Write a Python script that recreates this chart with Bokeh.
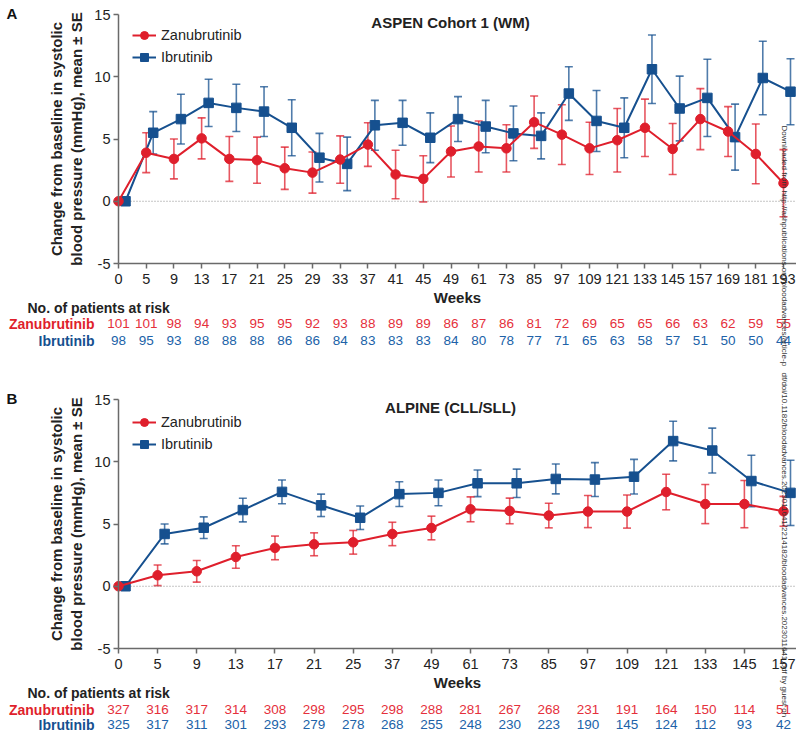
import math
from bokeh.plotting import figure
from bokeh.models import (Range1d, FixedTicker, Whisker, TeeHead, ColumnDataSource,
                          Label, Legend, LegendItem, LinearAxis)
from bokeh.layouts import column
from bokeh.embed import file_html
from bokeh.resources import INLINE
from bokeh.core.properties import value

# ---------------- data ----------------
aspen_weeks = [0, 5, 9, 13, 17, 21, 25, 29, 33, 37, 41, 45, 49, 61, 73, 85, 97, 109, 121, 133, 145, 157, 169, 181, 193]
aspen_zanu_mean = [0, 3.9, 3.4, 5.05, 3.4, 3.3, 2.65, 2.3, 3.35, 4.55, 2.15, 1.8, 4.0, 4.4, 4.25, 6.35, 5.35, 4.25, 4.9, 5.9, 4.2, 6.6, 5.6, 3.8, 1.45]
aspen_zanu_se = [0, 1.6, 1.6, 1.65, 1.8, 1.85, 1.7, 1.65, 1.9, 1.75, 1.95, 1.85, 2.05, 2.05, 1.9, 2.1, 2.4, 2.1, 2.55, 2.3, 2.05, 2.45, 2.0, 2.4, 2.7]
aspen_ibru_mean = [0, 5.5, 6.6, 7.9, 7.5, 7.2, 5.9, 3.5, 3.0, 6.1, 6.3, 5.1, 6.6, 6.0, 5.45, 5.25, 8.65, 6.45, 5.9, 10.6, 7.45, 8.3, 5.15, 9.9, 8.8]
aspen_ibru_se = [0, 1.7, 2.0, 1.9, 1.9, 2.0, 2.25, 1.95, 2.15, 2.0, 1.8, 2.0, 1.8, 2.1, 2.2, 1.85, 2.15, 2.45, 2.4, 2.75, 2.6, 3.1, 2.65, 2.95, 2.65]
aspen_zanu_risk = [101, 101, 98, 94, 93, 95, 95, 92, 93, 88, 89, 89, 86, 87, 86, 81, 72, 69, 65, 65, 66, 63, 62, 59, 55]
aspen_ibru_risk = [98, 95, 93, 88, 88, 88, 86, 86, 84, 83, 83, 83, 84, 80, 78, 77, 71, 65, 63, 58, 57, 51, 50, 50, 44]

alpine_weeks = [0, 5, 9, 13, 17, 21, 25, 37, 49, 61, 73, 85, 97, 109, 121, 133, 145, 157]
alpine_zanu_mean = [0, 0.88, 1.2, 2.35, 3.08, 3.37, 3.53, 4.2, 4.68, 6.18, 6.05, 5.68, 6.0, 6.0, 7.57, 6.6, 6.6, 6.02]
alpine_zanu_se = [0, 0.83, 0.87, 0.9, 0.95, 0.92, 0.95, 0.94, 0.95, 1.0, 1.03, 0.99, 1.29, 1.33, 1.43, 1.57, 1.9, 1.2]
alpine_ibru_mean = [0, 4.2, 4.7, 6.12, 7.58, 6.5, 5.5, 7.4, 7.5, 8.27, 8.27, 8.62, 8.57, 8.8, 11.66, 10.9, 8.45, 7.5]
alpine_ibru_se = [0, 0.8, 0.87, 0.95, 0.95, 0.9, 0.94, 0.99, 1.03, 1.07, 1.14, 1.2, 1.36, 1.39, 1.59, 1.8, 2.07, 2.62]
alpine_zanu_risk = [327, 316, 317, 314, 308, 298, 295, 298, 288, 281, 267, 268, 231, 191, 164, 150, 114, 51]
alpine_ibru_risk = [325, 317, 311, 301, 293, 279, 278, 268, 255, 248, 230, 223, 190, 145, 124, 112, 93, 42]

series_names = ["Zanubrutinib", "Ibrutinib"]
y_label = "Change from baseline in systolic\nblood pressure (mmHg), mean \u00b1 SE"
x_label = "Weeks"
risk_header = "No. of patients at risk"
y_ticks = [-5, 0, 5, 10, 15]
y_tick_labels = ["-5", "0", "5", "10", "15"]
watermark = ("Downloaded from http://ashpublications.org/bloodadvances/article-p",
             "df/doi/10.1182/bloodadvances.2023011641/2214182/bloodadvances.2023011641.pdf by guest on")

# ---------------- style / layout ----------------
FONT = "Liberation Sans"
RED = "#df1f2c"
BLUE = "#16508f"
RED_TXT = "#e5303c"
BLUE_TXT = "#2062a8"
AX = "#6a6a6a"
TXT = "#222222"
W = 796


def panel(letter, title, weeks, zm, zs, im, isd, zr, ir, H, y_top_px, lay):
    n = len(weeks)
    idx = list(range(n))
    x0_px, xl_px = 118, 783               # pixel of first / last week
    xppu = (xl_px - x0_px) / (n - 1)
    yppu = 249 / (y_ticks[-1] - y_ticks[0])
    ymin, ymax = y_ticks[0], y_ticks[-1]

    def X(px):
        return (px - x0_px) / xppu

    def Y(py):
        return ymax - (py - y_top_px) / yppu

    p = figure(width=W, height=H, x_range=Range1d(X(0), X(W)), y_range=Range1d(Y(H), Y(0)),
               output_backend="svg", toolbar_location=None, min_border=0,
               x_axis_location=None, y_axis_location=None)
    p.outline_line_color = None
    p.grid.visible = False
    p.background_fill_color = None
    p.border_fill_color = None

    yax = LinearAxis(fixed_location=0, bounds=(ymin, ymax), ticker=FixedTicker(ticks=y_ticks),
                     major_label_overrides={t: s for t, s in zip(y_ticks, y_tick_labels)})
    xax = LinearAxis(fixed_location=ymin, bounds=(0, X(W)), ticker=FixedTicker(ticks=idx),
                     major_label_overrides={i: str(w) for i, w in enumerate(weeks)})
    for ax in (xax, yax):
        ax.axis_line_color = AX
        ax.axis_line_width = 1.5
        ax.major_tick_line_color = AX
        ax.major_tick_line_width = 1.5
        ax.major_tick_out = 5
        ax.major_tick_in = 0
        ax.minor_tick_line_color = None
        ax.major_label_text_font = FONT
        ax.major_label_text_font_size = "14.5px"
        ax.major_label_text_color = TXT
        ax.axis_label_text_font = FONT
        ax.axis_label_text_font_style = "bold"
        ax.axis_label_text_color = TXT
        ax.axis_label_text_font_size = "15px"
    xax.axis_label = x_label
    xax.major_label_standoff = 5
    xax.axis_label_standoff = 2
    yax.axis_label = y_label
    yax.major_label_standoff = 3
    yax.axis_label_standoff = 6
    p.add_layout(yax, "left")
    p.add_layout(xax, "below")

    # dotted zero reference line from the y axis to the right edge
    p.segment(x0=[0], y0=[0], x1=[X(W)], y1=[0], line_color="#8a8a8a",
              line_dash="1 2", line_width=1)

    ib_x = [i + 7 / xppu for i in idx]

    for xs, m, s, col in ((ib_x, im, isd, BLUE), (idx, zm, zs, RED)):
        keep = [k for k in range(n) if s[k] > 0]
        src = ColumnDataSource(dict(
            base=[xs[k] for k in keep],
            upper=[m[k] + s[k] for k in keep],
            lower=[m[k] - s[k] for k in keep]))
        wk = Whisker(base="base", upper="upper", lower="lower", source=src,
                     line_color=col, line_width=1.6, line_alpha=0.75, level="underlay",
                     upper_head=TeeHead(size=8, line_color=col, line_width=1.6, line_alpha=0.75),
                     lower_head=TeeHead(size=8, line_color=col, line_width=1.6, line_alpha=0.75))
        p.add_layout(wk)

    ib_line = p.line(ib_x, im, line_color=BLUE, line_width=2)
    ib_pts = p.scatter(ib_x, im, marker="square", size=9.5, fill_color=BLUE, line_color=BLUE)
    zn_line = p.line(idx, zm, line_color=RED, line_width=2)
    zn_pts = p.scatter(idx, zm, marker="circle", size=9.5, fill_color=RED, line_color=RED)

    leg_h = 2 * 20 + 2
    legend = Legend(items=[LegendItem(label=series_names[0], renderers=[zn_line, zn_pts]),
                           LegendItem(label=series_names[1], renderers=[ib_line, ib_pts])],
                    location=(132, H - lay["legend_top"] - leg_h), margin=0, padding=0, spacing=2,
                    glyph_width=24, glyph_height=20, label_height=20, label_standoff=5,
                    label_text_font=FONT, label_text_font_size="14.5px", label_text_color=TXT,
                    background_fill_alpha=0, border_line_color=None)
    p.add_layout(legend)

    def lab(px, py, text, align="left", baseline="middle", size="14px", bold=True,
            color=TXT, angle=0.0):
        p.add_layout(Label(x=X(px), y=Y(py), text=text, text_align=align,
                           text_baseline=baseline, text_font=FONT, text_font_size=size,
                           text_font_style="bold" if bold else "normal",
                           text_color=color, angle=angle))

    lab(6, lay["letter_top"], letter, baseline="top", size="15px", color="#111111")
    lab(450, lay["title"], title, align="center", size="15px")
    lab(27, lay["header"], risk_header)
    lab(94, lay["row1"], series_names[0], align="right", color=RED)
    lab(94, lay["row2"], series_names[1], align="right", color=BLUE)

    for vals, col, row in ((zr, RED_TXT, "row1"), (ir, BLUE_TXT, "row2")):
        p.text(x=idx, y=[Y(lay[row])] * n, text=[str(v) for v in vals],
               text_align="center", text_baseline="middle", text_font=value(FONT),
               text_font_size="13.5px", text_color=col)

    lab(784, lay["wm_start"], lay["wm"], baseline="middle", size="8px", bold=False,
        color="#333333", angle=-math.pi / 2)
    return p


pA = panel("A", "ASPEN Cohort 1 (WM)", aspen_weeks, aspen_zanu_mean, aspen_zanu_se,
           aspen_ibru_mean, aspen_ibru_se, aspen_zanu_risk, aspen_ibru_risk,
           H=372, y_top_px=14,
           lay=dict(letter_top=4, title=22, legend_top=25, header=307, row1=323, row2=340,
                    wm_start=125, wm=watermark[0]))
pB = panel("B", "ALPINE (CLL/SLL)", alpine_weeks, alpine_zanu_mean, alpine_zanu_se,
           alpine_ibru_mean, alpine_ibru_se, alpine_zanu_risk, alpine_ibru_risk,
           H=360, y_top_px=27,
           lay=dict(letter_top=17, title=35, legend_top=40, header=320, row1=337, row2=352,
                    wm_start=0, wm=watermark[1]))

layout = column(pA, pB, spacing=0)
open("out.html", "w").write(file_html(layout, INLINE))
